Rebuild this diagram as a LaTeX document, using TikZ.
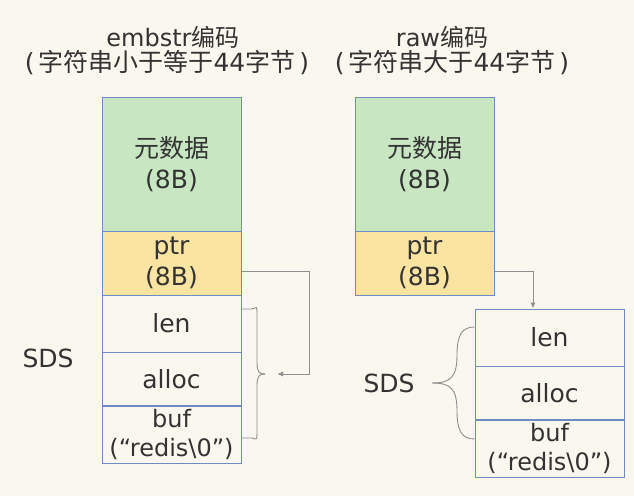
\documentclass[tikz,border=0pt]{standalone}
\usepackage{fontspec}
\setmainfont{DejaVu Sans}
\newfontfamily\cjk{Noto Sans CJK SC}
\newcommand{\zh}[1]{{\cjk #1}}
\usetikzlibrary{positioning,arrows.meta}
\definecolor{bgcol}{HTML}{FAF8EE}
\definecolor{metacol}{HTML}{C8E6C2}
\definecolor{ptrcol}{HTML}{FAE4A2}
\definecolor{edgecol}{HTML}{6E8BC6}
\definecolor{txtcol}{HTML}{333333}
\definecolor{linkcol}{HTML}{8E8E8E}
\begin{document}
\begin{tikzpicture}[x=1pt,y=-1pt,
  every node/.style={font=\fontsize{25}{31}\selectfont,text=txtcol,align=center,inner sep=0pt},
  cell/.style={draw=edgecol,line width=1pt,minimum width=#1},
  meta/.style={cell=139pt,fill=metacol,minimum height=134pt},
  ptrbox/.style={cell=139pt,fill=ptrcol,minimum height=64pt},
  link/.style={draw=linkcol,line width=0.9pt,-{Latex[length=6pt,width=5pt]}},
  brace/.style={draw=linkcol,line width=0.9pt}]
\useasboundingbox[fill=bgcol] (0,0) rectangle (634,496);
% titles
\node[font=\fontsize{24}{30}\selectfont] (tl1) at (173,37) {embstr\zh{编码}};
\node (tl2) at (167,63) {(\kern4pt\zh{字符串小于等于}44\zh{字节}\kern4pt)};
\node[font=\fontsize{24}{30}\selectfont] (tr1) at (442,37) {raw\zh{编码}};
\node (tr2) at (452,63) {(\kern4pt\zh{字符串大于}44\zh{字节}\kern4pt)};
% embstr: one block
\node[meta] (metaL) at (171.5,164) {\zh{元数据}\\(8B)};
\node[ptrbox] (ptrL) at (171.5,263) {ptr\\(8B)};
\node[cell=139pt,minimum height=57pt] (lenL) at (171.5,323.5) {len};
\node[cell=139pt,minimum height=54pt] (allocL) at (171.5,379) {alloc};
\node[cell=139pt,minimum height=58pt,font=\fontsize{24}{29}\selectfont] (bufL) at (171.5,434) {buf\\(“redis\textbackslash 0”)};
\node (sdsL) at (48,358) {SDS};
% raw: two blocks
\node[meta] (metaR) at (424.5,164) {\zh{元数据}\\(8B)};
\node[ptrbox] (ptrR) at (424.5,263) {ptr\\(8B)};
\node[cell=149pt,minimum height=57pt] (lenR) at (549.5,337.5) {len};
\node[cell=149pt,minimum height=54pt] (allocR) at (549.5,393) {alloc};
\node[cell=149pt,minimum height=58pt,font=\fontsize{24}{29}\selectfont] (bufR) at (549.5,448) {buf\\(“redis\textbackslash 0”)};
\node (sdsR) at (389,383) {SDS};
% braces and pointers
\coordinate (tipL) at (265,374);
\coordinate (tipR) at (432,383);
\draw[brace] ([yshift=14.5pt]lenL.east) -- ++(10,0) .. controls ++(6,0) and (257,300) .. (257,325)
  -- (257,362) .. controls (257,372) and (259,374) .. (tipL);
\draw[brace] ([yshift=-4pt]bufL.east) -- ++(10,0) .. controls ++(6,0) and (257,446) .. (257,420)
  -- (257,386) .. controls (257,376) and (259,374) .. (tipL);
\draw[brace] ([yshift=10.5pt]lenR.west) .. controls (462,327) and (457,335) .. (457,355)
  .. controls (457,378) and (450,383) .. (tipR);
\draw[brace] ([yshift=9pt]bufR.west) .. controls (462,439) and (457,431) .. (457,411)
  .. controls (457,388) and (450,383) .. (tipR);
\draw[link] ([yshift=-8pt]ptrL.east) -- ++(68,0) |- ([xshift=12pt]tipL);
\draw[link] ([yshift=-8pt]ptrR.east) -| ([xshift=-16.5pt]lenR.north);
\end{tikzpicture}
\end{document}
